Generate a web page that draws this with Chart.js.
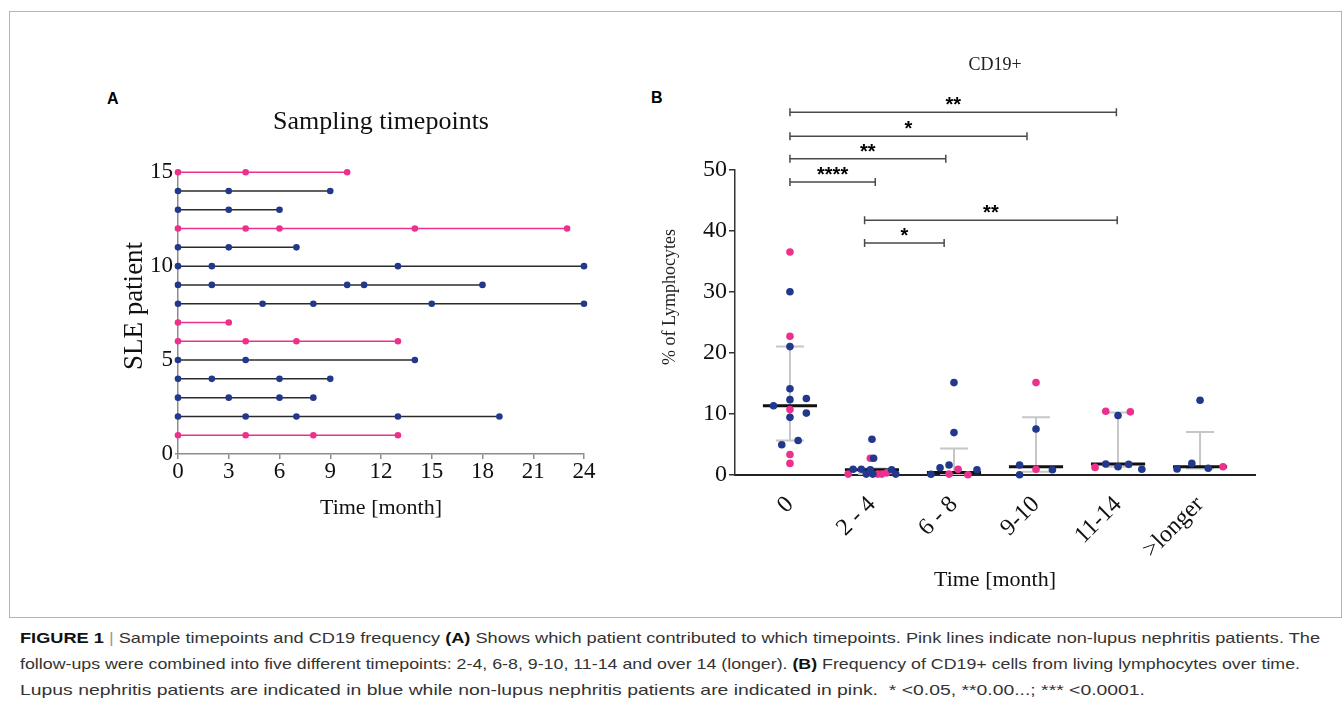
<!DOCTYPE html>
<html>
<head>
<meta charset="utf-8">
<script src="https://cdn.jsdelivr.net/npm/chart.js@4.4.0/dist/chart.umd.min.js"></script>
<style>
  body { margin: 0; width: 1342px; height: 707px; background: #fff; position: relative; overflow: hidden; }
  #frame { position: absolute; left: 9px; top: 11px; width: 1333px; height: 607px; box-sizing: border-box; border: 1px solid #b4b4b4; }
  canvas { position: absolute; }
  #chartA { left: 100px; top: 80px; }
  #chartB { left: 650px; top: 30px; }
  .panel { position: absolute; font: bold 16px "Liberation Sans", Arial, sans-serif; color: #000; line-height: 16px; }
  .cap { position: absolute; left: 20px; white-space: nowrap; font-family: "Liberation Sans Narrow", "Liberation Sans", Arial, sans-serif;
         font-size: 15px; line-height: 18px; color: #333; transform-origin: 0 0; }
  .cap b { color: #111; }
  .sep { color: #999; }
</style>
</head>
<body>
<div id="frame"></div>
<div class="panel" style="left:107px;top:91px;">A</div>
<div class="panel" style="left:651px;top:90px;">B</div>
<canvas id="chartA" width="562" height="443"></canvas>
<canvas id="chartB" width="690" height="565"></canvas>
<div class="cap" data-w="1300" style="top:629px;"><b>FIGURE 1</b> <span class="sep">|</span> Sample timepoints and CD19 frequency <b>(A)</b> Shows which patient contributed to which timepoints. Pink lines indicate non-lupus nephritis patients. The</div>
<div class="cap" data-w="1280" style="top:655px;">follow-ups were combined into five different timepoints: 2-4, 6-8, 9-10, 11-14 and over 14 (longer). <b>(B)</b> Frequency of CD19+ cells from living lymphocytes over time.</div>
<div class="cap" data-w="1125" style="top:681px;">Lupus nephritis patients are indicated in blue while non-lupus nephritis patients are indicated in pink.&nbsp; * &lt;0.05, **0.00...; *** &lt;0.0001.</div>
<script>
const serif = '"Liberation Serif", "Times New Roman", serif';
const sans = '"Liberation Sans", Arial, sans-serif';
const PINK = "#ec318c";
const NAVY = "#22388c";

/* ---------- panel A: sampling timepoints ---------- */
const patientIds = [1, 2, 3, 4, 5, 6, 7, 8, 9, 10, 11, 12, 13, 14, 15];
const patientNonLN = [1, 0, 0, 0, 0, 1, 1, 0, 0, 0, 0, 1, 0, 0, 1];
const visitMonths = [
  [0, 4, 8, 13],
  [0, 4, 7, 13, 19],
  [0, 3, 6, 8],
  [0, 2, 6, 9],
  [0, 4, 14],
  [0, 4, 7, 13],
  [0, 3],
  [0, 5, 8, 15, 24],
  [0, 2, 10, 11, 18],
  [0, 2, 13, 24],
  [0, 3, 7],
  [0, 4, 6, 14, 23],
  [0, 3, 6],
  [0, 3, 9],
  [0, 4, 10],
];

/* ---------- panel B: CD19+ ---------- */
const groups = ["0", "2 - 4", "6 - 8", "9-10", "11-14", ">longer"];
const lnValues = [
  [30.0, 21.0, 14.1, 12.3, 12.5, 11.3, 10.1, 9.4, 5.6, 4.9],
  [5.8, 2.7, 0.9, 0.9, 0.8, 0.8, 0.1, 0.1, 0.1],
  [15.1, 6.9, 1.6, 1.15, 0.8, 0.07],
  [7.5, 1.6, 0, 0.8],
  [9.7, 1.75, 1.3, 1.7, 0.9],
  [12.2, 1.85, 0.95, 1.05],
];
const lnJitter = [
  [0, 0, 0, 0, 0.2, -0.2, 0.2, 0, 0.1, -0.1],
  [0, 0.02, -0.23, -0.13, -0.02, 0.24, -0.07, 0.01, 0.29],
  [0, 0, -0.06, -0.17, 0.28, -0.28],
  [0, -0.2, -0.2, 0.2],
  [0, -0.15, 0, 0.13, 0.29],
  [0, -0.1, -0.28, 0.1],
];
const nonLnValues = [
  [36.5, 22.7, 10.7, 3.3, 1.85],
  [2.7, 0.1, 0.1, 0.1, 0.3],
  [0.9, 0.1, 0],
  [15.1, 0.9],
  [10.4, 10.3, 1.2],
  [1.3],
];
const nonLnJitter = [
  [0, 0, 0, 0, 0],
  [-0.02, -0.29, 0.07, 0.12, 0.18],
  [0.05, -0.06, 0.17],
  [0, 0],
  [-0.15, 0.15, -0.28],
  [0.28],
];
const medians = [11.3, 0.8, 0.35, 1.3, 1.75, 1.3];
const q1 = [5.6, 0.1, 0.1, 0.5, 1.3, 1.0];
const q3 = [21.0, 1.0, 4.3, 9.4, 10.2, 7.0];
// significance brackets: from group, to group, height (% scale), stars
const bracketFrom = [0, 0, 0, 0, 0.91, 0.91];
const bracketTo = [3.98, 2.89, 1.9, 1.04, 3.99, 1.88];
const bracketY = [59.4, 55.5, 51.8, 48.0, 41.7, 38.0];
const bracketStars = ["**", "*", "**", "****", "**", "*"];

/*-----title centred on the plot area, optional side title------*/
const plotTitle = {
  id: "plotTitle",
  afterDraw(chart, args, opts) {
    const { ctx, chartArea } = chart;
    ctx.save();
    ctx.fillStyle = opts.color;
    ctx.font = opts.font;
    ctx.textAlign = "center";
    ctx.textBaseline = "middle";
    ctx.fillText(opts.text, (chartArea.left + chartArea.right) / 2, opts.y);
    if (opts.side) {
      ctx.font = opts.sideFont;
      ctx.translate(opts.sideX, opts.sideY);
      ctx.rotate(-Math.PI / 2);
      ctx.fillText(opts.side, 0, 0);
    }
    ctx.restore();
  },
};

/*-----Chart A------------------------------------------------*/
const datasetsA = patientIds.map((p, i) => ({
  data: visitMonths[i].map((m) => ({ x: m, y: p })),
  showLine: true,
  borderColor: patientNonLN[i] ? PINK : "#2b2b2b",
  borderWidth: 1.5,
  pointBackgroundColor: patientNonLN[i] ? PINK : NAVY,
  pointBorderColor: patientNonLN[i] ? PINK : NAVY,
  pointBorderWidth: 0,
  pointRadius: 3.3,
  clip: false,
}));

new Chart(document.getElementById("chartA"), {
  type: "scatter",
  data: { datasets: datasetsA },
  options: {
    responsive: false,
    animation: false,
    layout: { padding: { right: 78, top: 92.2 } },
    plugins: {
      legend: { display: false },
      tooltip: { enabled: false },
      plotTitle: {
        text: "Sampling timepoints", font: "26px " + serif, color: "#111", y: 41.7,
        side: "SLE patient", sideFont: "27px " + serif, sideX: 35, sideY: 226,
      },
    },
    scales: {
      x: {
        type: "linear",
        min: 0,
        max: 24,
        ticks: { stepSize: 3, autoSkip: false, maxRotation: 0, padding: 1, color: "#111", font: { family: serif, size: 23, lineHeight: 1 } },
        grid: { drawOnChartArea: false, tickLength: 5, color: "#8c8c8c", lineWidth: 1.5 },
        border: { color: "#8c8c8c", width: 1.5 },
        title: { display: true, text: "Time [month]", color: "#111", font: { family: serif, size: 22 }, padding: { top: 0, bottom: 2 } },
        afterFit(s) { s.height = 69; },
      },
      y: {
        type: "linear",
        min: 0,
        max: 15,
        ticks: { stepSize: 5, padding: 2, color: "#111", font: { family: serif, size: 23 } },
        grid: { drawOnChartArea: false, tickLength: 3, color: "#8c8c8c", lineWidth: 1.5 },
        border: { color: "#8c8c8c", width: 1.5 },
        afterFit(s) { s.width = 78; },
      },
    },
  },
  plugins: [plotTitle],
});

/*-----Chart B------------------------------------------------*/
function toPoints(values, jitter) {
  const out = [];
  values.forEach((vals, c) => vals.forEach((v, k) => out.push({ x: c + jitter[c][k], y: v })));
  return out;
}

const panelBExtras = {
  id: "panelBExtras",
  beforeDatasetsDraw(chart) {
    const { ctx, scales: { x, y } } = chart;
    ctx.save();
    ctx.lineCap = "butt";
    ctx.strokeStyle = "#c6c6c6";
    ctx.lineWidth = 2;
    for (let i = 0; i < groups.length; i++) {
      const px = x.getPixelForValue(i);
      const cap = x.getPixelForValue(i + 0.17) - px;
      const top = y.getPixelForValue(q3[i]);
      const bot = y.getPixelForValue(q1[i]);
      ctx.beginPath();
      ctx.moveTo(px, top); ctx.lineTo(px, bot);
      ctx.moveTo(px - cap, top); ctx.lineTo(px + cap, top);
      ctx.moveTo(px - cap, bot); ctx.lineTo(px + cap, bot);
      ctx.stroke();
    }
    ctx.strokeStyle = "#111";
    ctx.lineWidth = 3;
    for (let i = 0; i < groups.length; i++) {
      const m = y.getPixelForValue(medians[i]);
      ctx.beginPath();
      ctx.moveTo(x.getPixelForValue(i - 0.33), m);
      ctx.lineTo(x.getPixelForValue(i + 0.33), m);
      ctx.stroke();
    }
    ctx.restore();
  },
  afterDraw(chart) {
    const { ctx, scales: { x, y } } = chart;
    ctx.save();
    ctx.strokeStyle = "#4a4a4a";
    ctx.lineWidth = 1.5;
    ctx.fillStyle = "#000";
    ctx.font = "bold 20px " + sans;
    ctx.textAlign = "center";
    ctx.textBaseline = "alphabetic";
    for (let i = 0; i < bracketY.length; i++) {
      const x1 = x.getPixelForValue(bracketFrom[i]);
      const x2 = x.getPixelForValue(bracketTo[i]);
      const by = y.getPixelForValue(bracketY[i]);
      ctx.beginPath();
      ctx.moveTo(x1, by); ctx.lineTo(x2, by);
      ctx.moveTo(x1, by - 4); ctx.lineTo(x1, by + 4);
      ctx.moveTo(x2, by - 4); ctx.lineTo(x2, by + 4);
      ctx.stroke();
      ctx.fillText(bracketStars[i], (x1 + x2) / 2, by - 1);
    }
    ctx.restore();
  },
};

new Chart(document.getElementById("chartB"), {
  type: "scatter",
  data: {
    datasets: [
      { data: toPoints(lnValues, lnJitter), backgroundColor: NAVY, borderColor: NAVY, borderWidth: 0, pointRadius: 3.8, clip: false },
      { data: toPoints(nonLnValues, nonLnJitter), backgroundColor: PINK, borderColor: PINK, borderWidth: 0, pointRadius: 3.8, clip: false },
    ],
  },
  options: {
    responsive: false,
    animation: false,
    layout: { padding: { right: 85, top: 139.7 } },
    plugins: {
      legend: { display: false },
      tooltip: { enabled: false },
      plotTitle: {
        text: "CD19+", font: "18px " + serif, color: "#222", y: 35,
        side: "% of Lymphocytes", sideFont: "18px " + serif, sideX: 20, sideY: 267,
      },
    },
    scales: {
      x: {
        type: "linear",
        min: -0.67,
        max: 5.67,
        afterBuildTicks(s) { s.ticks = groups.map((g, i) => ({ value: i })); },
        ticks: {
          autoSkip: false,
          minRotation: 45,
          maxRotation: 45,
          padding: 8,
          color: "#111",
          font: { family: serif, size: 24 },
          callback: (v) => groups[v],
        },
        grid: { display: false },
        border: { display: true, color: "#222", width: 2, dash: [1.5, 1.5] },
        title: { display: true, text: "Time [month]", color: "#111", font: { family: serif, size: 22 }, padding: { top: 0, bottom: 2 } },
        afterFit(s) { s.height = 120.3; },
      },
      y: {
        type: "linear",
        min: 0,
        max: 50,
        ticks: { stepSize: 10, padding: 2, color: "#111", font: { family: serif, size: 24 } },
        grid: { drawOnChartArea: false, tickLength: 6, color: "#333", lineWidth: 1.5 },
        border: { color: "#333", width: 1.5 },
        afterFit(s) { s.width = 85; },
      },
    },
  },
  plugins: [panelBExtras, plotTitle],
});

/* fit the caption lines to the measured widths */
document.querySelectorAll(".cap").forEach((el) => {
  const w = el.getBoundingClientRect().width;
  el.style.transform = "scaleX(" + (Number(el.dataset.w) / w) + ")";
});
</script>
</body>
</html>
